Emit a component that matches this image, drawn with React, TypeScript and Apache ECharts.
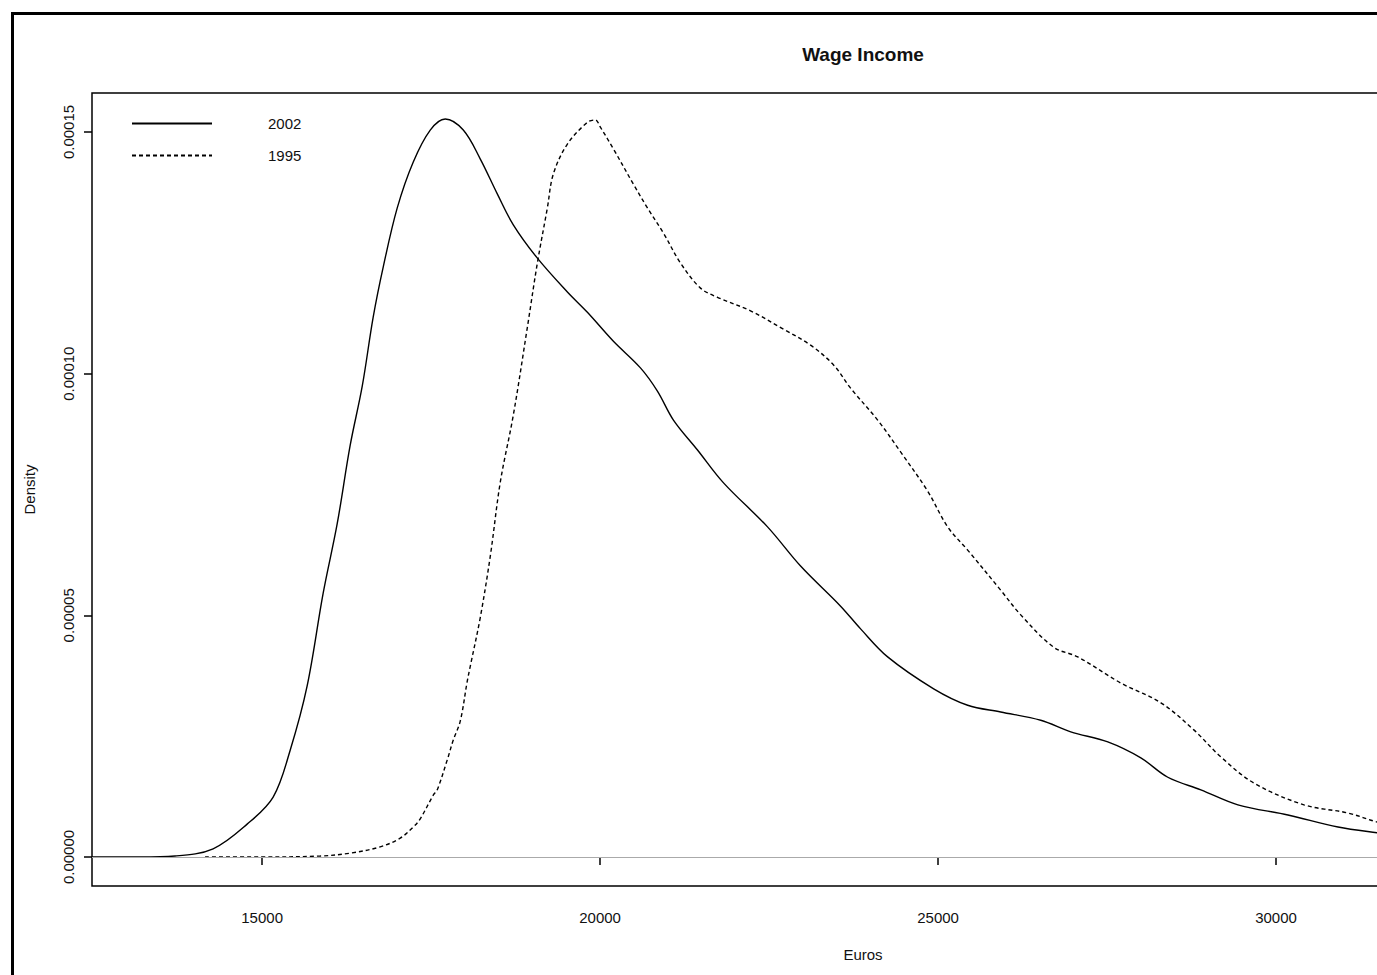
import React, { useEffect, useRef } from "react";
import * as echarts from "echarts";

// Kernel density estimates (Euros, density)
const income2002X = [12483, 13194, 13712, 14275, 14778, 15163, 15415, 15666, 15903, 16110, 16303, 16481, 16643, 16792, 16999, 17236, 17487, 17709, 17976, 18228, 18479, 18716, 19072, 19516, 19812, 20197, 20597, 20848, 21085, 21441, 21826, 22477, 22966, 23558, 23854, 24254, 24935, 25438, 25927, 26519, 26963, 27511, 28000, 28399, 28888, 29436, 30176, 30917, 31509, 32200];
const density2002 = [0, 0, 0.0000002, 0.0000017, 0.0000068, 0.0000124, 0.0000221, 0.0000354, 0.0000546, 0.0000689, 0.0000852, 0.0000974, 0.0001117, 0.0001221, 0.0001343, 0.0001438, 0.0001504, 0.0001527, 0.0001504, 0.0001444, 0.0001372, 0.0001308, 0.0001239, 0.0001169, 0.0001127, 0.0001067, 0.0001012, 0.0000964, 0.0000904, 0.0000842, 0.0000774, 0.0000683, 0.0000602, 0.0000519, 0.0000472, 0.0000414, 0.0000348, 0.0000314, 0.0000300, 0.0000283, 0.0000259, 0.0000238, 0.0000205, 0.0000165, 0.0000139, 0.0000108, 0.0000087, 0.0000062, 0.0000050, 0.0000038];

const income1995X = [14156, 14970, 15859, 16303, 16747, 17043, 17236, 17339, 17532, 17591, 17739, 17828, 17931, 18035, 18080, 18228, 18376, 18524, 18716, 18924, 19072, 19220, 19308, 19516, 19812, 19930, 20004, 20197, 20493, 20700, 20937, 21189, 21485, 21737, 22225, 22714, 23114, 23454, 23706, 24106, 24446, 24846, 25142, 25438, 25927, 26223, 26711, 27067, 27703, 28296, 28784, 29184, 29673, 30413, 31064, 31509, 32200];
const density1995 = [0, 0, 0.0000002, 0.0000008, 0.0000021, 0.0000039, 0.0000062, 0.0000079, 0.0000128, 0.0000139, 0.0000201, 0.0000242, 0.0000281, 0.0000364, 0.0000395, 0.0000496, 0.0000623, 0.0000776, 0.0000914, 0.0001096, 0.0001229, 0.0001343, 0.0001413, 0.0001475, 0.0001520, 0.0001525, 0.0001510, 0.0001465, 0.0001392, 0.0001343, 0.0001291, 0.0001229, 0.0001177, 0.0001158, 0.0001130, 0.0001092, 0.0001059, 0.0001018, 0.0000970, 0.0000904, 0.0000838, 0.0000757, 0.0000683, 0.0000635, 0.0000552, 0.0000501, 0.0000434, 0.0000414, 0.0000360, 0.0000319, 0.0000263, 0.0000207, 0.0000153, 0.0000108, 0.0000091, 0.0000072, 0.0000052];

const xTicks = [15000, 20000, 25000, 30000];
const yTicks = [0, 0.00005, 0.0001, 0.00015];
const seriesNames = ["2002", "1995"];

const FONT = "'Liberation Sans', Arial, sans-serif";

export default function App() {
  const ref = useRef<HTMLDivElement>(null);

  useEffect(() => {
    if (!ref.current) return;
    const chart = echarts.init(ref.current, null, { renderer: "svg" });
    const zip = (xs: number[], ys: number[]) => xs.map((x, i) => [x, ys[i]]);

    chart.setOption({
      animation: false,
      backgroundColor: "#fff",
      textStyle: { fontFamily: FONT, color: "#000" },
      title: {
        text: "Wage Income",
        left: "center",
        top: 45,
        padding: 0,
        textStyle: { fontFamily: FONT, fontSize: 19, fontWeight: "bold", color: "#111" },
      },
      legend: {
        orient: "vertical",
        left: 126,
        top: 111,
        itemWidth: 80,
        itemHeight: 14,
        itemGap: 17,
        data: seriesNames,
        itemStyle: { opacity: 0 },
        textStyle: { fontFamily: FONT, fontSize: 15, color: "#111", padding: [0, 0, 0, 51] },
      },
      grid: {
        left: 92,
        top: 93,
        width: 1542,
        height: 793,
        show: true,
        borderColor: "#000",
        borderWidth: 1.5,
        backgroundColor: "transparent",
      },
      xAxis: {
        type: "value",
        min: 12483,
        max: 35296,
        name: "Euros",
        nameLocation: "middle",
        nameGap: 61,
        nameTextStyle: { fontFamily: FONT, fontSize: 15, color: "#111" },
        axisLine: { show: false },
        splitLine: { show: false },
        axisTick: { show: true, length: 8, customValues: xTicks, lineStyle: { color: "#000", width: 1.5 } },
        axisLabel: {
          customValues: xTicks,
          fontFamily: FONT,
          fontSize: 15,
          color: "#111",
          margin: 24,
          formatter: (v: number) => String(v),
        },
      },
      yAxis: {
        type: "value",
        min: -0.000006,
        max: 0.00015807,
        name: "Density",
        nameLocation: "middle",
        nameRotate: 90,
        nameGap: 55,
        nameTextStyle: { fontFamily: FONT, fontSize: 15, color: "#111" },
        axisLine: { show: false },
        splitLine: { show: false },
        axisTick: { show: true, length: 8, customValues: yTicks, lineStyle: { color: "#000", width: 1.5 } },
        axisLabel: {
          customValues: yTicks,
          rotate: 90,
          fontFamily: FONT,
          fontSize: 15,
          color: "#111",
          margin: 16,
          formatter: (v: number) => v.toFixed(5),
        },
      },
      graphic: [
        {
          type: "rect",
          shape: { x: 12.5, y: 13.5, width: 1701, height: 1000 },
          style: { fill: "none", stroke: "#000", lineWidth: 3 },
          silent: true,
        },
      ],
      series: [
        {
          name: seriesNames[0],
          type: "line",
          data: zip(income2002X, density2002),
          symbol: "none",
          smooth: 0.35,
          lineStyle: { color: "#000", width: 1.4, type: "solid" },
          itemStyle: { color: "#000" },
          markLine: {
            silent: true,
            symbol: ["none", "none"],
            label: { show: false },
            lineStyle: { color: "#aaa", width: 1.2, type: "solid" },
            data: [{ yAxis: 0 }],
          },
          z: 3,
        },
        {
          name: seriesNames[1],
          type: "line",
          data: zip(income1995X, density1995),
          symbol: "none",
          smooth: 0.35,
          lineStyle: { color: "#000", width: 1.4, type: [4, 3] },
          itemStyle: { color: "#000" },
          z: 3,
        },
      ],
    });

    return () => chart.dispose();
  }, []);

  return (
    <div
      style={{
        position: "fixed",
        left: 0,
        top: 0,
        width: 1377,
        height: 975,
        overflow: "hidden",
        background: "#fff",
      }}
    >
      <div ref={ref} style={{ width: 1726, height: 1000 }} />
    </div>
  );
}
